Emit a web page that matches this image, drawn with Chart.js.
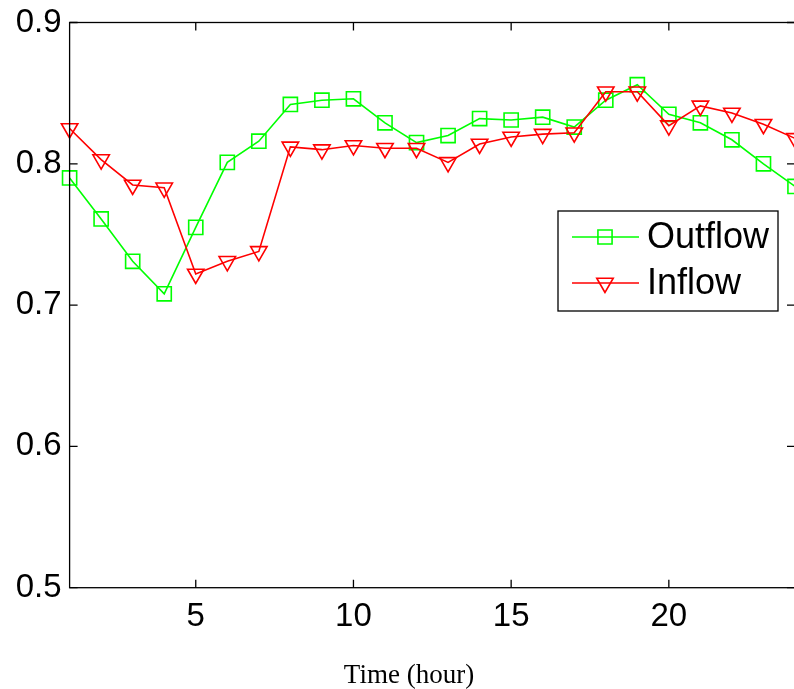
<!DOCTYPE html>
<html>
<head>
<meta charset="utf-8">
<script src="https://cdn.jsdelivr.net/npm/chart.js@4.4.0/dist/chart.umd.min.js"></script>
<style>
html, body { margin: 0; padding: 0; background: #fff; overflow: hidden; }
#wrap { width: 796px; height: 689px; }
</style>
</head>
<body>
<div id="wrap"><canvas id="myChart" width="796" height="689"></canvas></div>
<script>
// datos
var hours = [1, 2, 3, 4, 5, 6, 7, 8, 9, 10, 11, 12, 13, 14, 15, 16, 17, 18, 19, 20, 21, 22, 23, 24];
var outflow = [0.790, 0.761, 0.731, 0.708, 0.755, 0.801, 0.816, 0.842, 0.845, 0.846, 0.829, 0.815,
               0.820, 0.832, 0.831, 0.833, 0.826, 0.845, 0.856, 0.835, 0.829, 0.817, 0.800, 0.784];
var inflow = [0.825, 0.803, 0.785, 0.783, 0.722, 0.731, 0.738, 0.812, 0.810, 0.813, 0.811, 0.811,
              0.801, 0.814, 0.819, 0.821, 0.822, 0.851, 0.851, 0.827, 0.841, 0.836, 0.828, 0.818];
var xTicks = [5, 10, 15, 20];
var yTicks = [0.5, 0.6, 0.7, 0.8, 0.9];
var xLabel = 'Time (hour)';

function toPoints(values) {
    return hours.map(function(h, i) { return { x: h, y: values[i] }; });
}

var sansFont = '"Liberation Sans", Arial, sans-serif';
var serifFont = '"Liberation Serif", "Times New Roman", serif';

// marco, ticks interiores, leyenda y etiqueta del eje x al estilo MATLAB
var frame = {
    id: 'frame',
    afterDraw: function(chart) {
        var ctx = chart.ctx;
        var a = chart.chartArea;
        var xs = chart.scales.x;
        var ys = chart.scales.y;
        var tl = 8;
        ctx.save();
        ctx.strokeStyle = '#000';
        ctx.lineWidth = 1.3;
        ctx.strokeRect(a.left, a.top, a.right - a.left, a.bottom - a.top);
        ctx.beginPath();
        xTicks.forEach(function(t) {
            var px = xs.getPixelForValue(t);
            ctx.moveTo(px, a.bottom); ctx.lineTo(px, a.bottom - tl);
            ctx.moveTo(px, a.top); ctx.lineTo(px, a.top + tl);
        });
        yTicks.forEach(function(t) {
            var py = ys.getPixelForValue(t);
            ctx.moveTo(a.left, py); ctx.lineTo(a.left + tl, py);
            ctx.moveTo(a.right, py); ctx.lineTo(a.right - tl, py);
        });
        ctx.stroke();

        // leyenda
        var bx = 558, by = 211, bw = 220, bh = 100;
        ctx.fillStyle = '#fff';
        ctx.fillRect(bx, by, bw, bh);
        ctx.strokeRect(bx, by, bw, bh);
        var rows = [237, 283];
        chart.data.datasets.forEach(function(ds, i) {
            var y = rows[i];
            ctx.strokeStyle = ds.borderColor;
            ctx.lineWidth = ds.borderWidth;
            ctx.beginPath();
            ctx.moveTo(572, y); ctx.lineTo(639, y);
            ctx.stroke();
            ctx.fillStyle = 'rgba(0,0,0,0)';
            Chart.helpers.drawPoint(ctx, {
                pointStyle: ds.pointStyle,
                radius: ds.pointRadius,
                rotation: ds.pointRotation || 0,
                borderWidth: ds.borderWidth
            }, 605, y);
            ctx.fillStyle = '#000';
            ctx.font = '36px ' + sansFont;
            ctx.textAlign = 'left';
            ctx.textBaseline = 'middle';
            ctx.fillText(ds.label, 647, y + 1);
        });

        ctx.fillStyle = '#000';
        ctx.font = '27px ' + serifFont;
        ctx.textAlign = 'center';
        ctx.textBaseline = 'alphabetic';
        ctx.fillText(xLabel, 409, 683);
        ctx.restore();
    }
};

var ctx = document.getElementById('myChart').getContext('2d');
var chart = new Chart(ctx, {
    type: 'line',
    data: {
        datasets: [{
            label: 'Outflow',
            data: toPoints(outflow),
            borderColor: '#00ff00',
            backgroundColor: 'rgba(0,0,0,0)',
            borderWidth: 1.6,
            pointStyle: 'rect',
            pointRadius: 10,
            pointBorderWidth: 1.6,
            order: 1,
            clip: false
        }, {
            label: 'Inflow',
            data: toPoints(inflow),
            borderColor: '#ff0000',
            backgroundColor: 'rgba(0,0,0,0)',
            borderWidth: 1.6,
            pointStyle: 'triangle',
            pointRotation: 180,
            pointRadius: 9.5,
            pointBorderWidth: 1.6,
            order: 0,
            clip: false
        }]
    },
    options: {
        responsive: false,
        animation: false,
        layout: { autoPadding: false, padding: { left: 0, right: 1, top: 22.5, bottom: 0 } },
        plugins: {
            legend: { display: false },
            tooltip: { enabled: false }
        },
        scales: {
            x: {
                type: 'linear',
                min: 1,
                max: 24,
                grid: { display: false, drawTicks: false },
                border: { display: false },
                afterBuildTicks: function(scale) {
                    scale.ticks = xTicks.map(function(v) { return { value: v }; });
                },
                afterFit: function(scale) {
                    scale.height = 101.3;
                    scale.paddingLeft = 0;
                    scale.paddingRight = 0;
                },
                ticks: {
                    color: '#000',
                    padding: 9,
                    maxRotation: 0,
                    font: { family: sansFont, size: 33 }
                }
            },
            y: {
                min: 0.5,
                max: 0.9,
                grid: { display: false, drawTicks: false },
                border: { display: false },
                afterBuildTicks: function(scale) {
                    scale.ticks = yTicks.map(function(v) { return { value: v }; });
                },
                afterFit: function(scale) {
                    scale.width = 69.6;
                    scale.paddingTop = 0;
                    scale.paddingBottom = 0;
                },
                ticks: {
                    color: '#000',
                    padding: 8,
                    font: { family: sansFont, size: 33 },
                    callback: function(v) { return v.toFixed(1); }
                }
            }
        }
    },
    plugins: [frame]
});
</script>
</body>
</html>
